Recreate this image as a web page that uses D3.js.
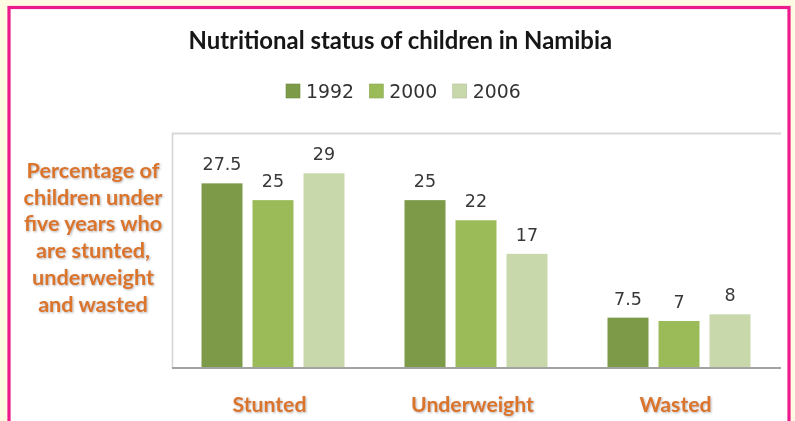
<!DOCTYPE html>
<html>
<head>
<meta charset="utf-8">
<script src="https://cdn.jsdelivr.net/npm/d3@7"></script>
<style>
  html, body { margin: 0; padding: 0; background: #fffbe3; }
  svg { display: block; }
</style>
</head>
<body>
<div id="chart"></div>
<script>
// ---- data ----
const title = "Nutritional status of children in Namibia";
const categories = ["Stunted", "Underweight", "Wasted"];
const years = ["1992", "2000", "2006"];
const values1992 = [27.5, 25, 7.5];
const values2000 = [25, 22, 7];
const values2006 = [29, 17, 8];
const yLabelLines = ["Percentage of", "children under", "five years who", "are stunted,", "underweight", "and wasted"];
const colors = ["#7d9a48", "#9bbb59", "#c8d8aa"];

const series = [values1992, values2000, values2006];

const W = 795, H = 421;
const plot = { left: 172, right: 781, top: 133, bottom: 368 };
const orange = "#db742c";

const svg = d3.select("#chart").append("svg").attr("width", W).attr("height", H);

const defs = svg.append("defs");
const f = defs.append("filter").attr("id", "shadow").attr("x", "-10%").attr("y", "-20%").attr("width", "130%").attr("height", "150%");
f.append("feDropShadow").attr("dx", 1).attr("dy", 1).attr("stdDeviation", 0.9)
  .attr("flood-color", "#7a7a7a").attr("flood-opacity", 0.55);
const soft = defs.append("filter").attr("id", "soft");
soft.append("feGaussianBlur").attr("stdDeviation", 0.35);

// background panel with pink border
svg.append("rect").attr("x", 0).attr("y", 0).attr("width", W).attr("height", H).attr("fill", "#fffbe3");
svg.append("rect").attr("x", 9).attr("y", 7.5).attr("width", 780).attr("height", 430)
  .attr("fill", "#ffffff").attr("stroke", "#ec1a8c").attr("stroke-width", 3.2);

// fit helper: scale font-size so text width matches target
function fitWidth(sel, target) {
  const node = sel.node();
  const fs = parseFloat(sel.attr("font-size"));
  const len = node.getComputedTextLength();
  if (len > 0) sel.attr("font-size", fs * target / len);
  return +sel.attr("font-size");
}

// title
const t = svg.append("text").attr("x", 400.3).attr("y", 48.7).attr("text-anchor", "middle")
  .attr("font-family", "Lato, 'Open Sans', sans-serif").attr("font-weight", "bold")
  .attr("font-size", 20).attr("fill", "#151515").attr("filter", "url(#soft)").text(title);
fitWidth(t, 424);

// scales
const x0 = d3.scaleBand().domain(categories).range([plot.left, plot.right]).padding(0);
const x1 = d3.scaleBand().domain(years).range([29.5, 172.5]).paddingInner(0.196).paddingOuter(0);
const y = d3.scaleLinear().domain([0, 35]).range([plot.bottom, plot.top]);

// plot border (top & left)
svg.append("line").attr("x1", plot.left).attr("x2", plot.right).attr("y1", plot.top + 0.5).attr("y2", plot.top + 0.5)
  .attr("stroke", "#d9d9d9").attr("stroke-width", 2);
svg.append("line").attr("x1", plot.left + 0.5).attr("x2", plot.left + 0.5).attr("y1", plot.top).attr("y2", plot.bottom)
  .attr("stroke", "#d3d3d3").attr("stroke-width", 1.5);

// legend
const legendX = [286, 369.3, 452.7];
const lg = svg.append("g");
let legendFs = null;
years.forEach((yr, i) => {
  lg.append("rect").attr("x", legendX[i]).attr("y", 84).attr("width", 14).attr("height", 14)
    .attr("fill", colors[i]).attr("stroke", d3.color(colors[i]).darker(0.3)).attr("stroke-width", 0.6);
  const tx = lg.append("text").attr("x", legendX[i] + 20).attr("y", 97.5)
    .attr("font-family", "'DejaVu Sans', sans-serif").attr("font-size", 18)
    .attr("fill", "#333333").attr("filter", "url(#soft)").text(yr);
  if (legendFs === null) legendFs = fitWidth(tx, 48); else tx.attr("font-size", legendFs);
});

// bars
const groups = svg.append("g").selectAll("g").data(categories).join("g")
  .attr("transform", d => `translate(${x0(d)},0)`);

years.forEach((yr, si) => {
  groups.append("rect")
    .attr("x", x1(yr)).attr("width", x1.bandwidth())
    .attr("y", (d, ci) => y(series[si][ci]))
    .attr("height", (d, ci) => y(0) - y(series[si][ci]))
    .attr("fill", colors[si]);
});
years.forEach((yr, si) => {
  groups.append("text")
    .attr("x", x1(yr) + x1.bandwidth() / 2)
    .attr("y", (d, ci) => y(series[si][ci]) - 13)
    .attr("text-anchor", "middle")
    .attr("font-family", "'DejaVu Sans', sans-serif").attr("font-size", 17.5)
    .attr("fill", "#383838").attr("filter", "url(#soft)")
    .text((d, ci) => series[si][ci]);
});

// x axis line
svg.append("line").attr("x1", plot.left).attr("x2", plot.right).attr("y1", plot.bottom).attr("y2", plot.bottom)
  .attr("stroke", "#a3a3a3").attr("stroke-width", 2);

// x category labels
const xl = svg.append("g").selectAll("text").data(categories).join("text")
  .attr("x", d => x0(d) + x0.bandwidth() / 2 - 4).attr("y", 411.7)
  .attr("text-anchor", "middle")
  .attr("font-family", "Lato, 'Open Sans', sans-serif").attr("font-weight", "bold").attr("font-size", 20)
  .attr("fill", orange).attr("filter", "url(#shadow)").text(d => d);
const uw = xl.filter(d => d === "Underweight");
const xfs = fitWidth(uw, 123);
xl.attr("font-size", xfs);

// y axis title (multi-line)
const yl = svg.append("text").attr("text-anchor", "middle")
  .attr("font-family", "Lato, 'Open Sans', sans-serif").attr("font-weight", "bold").attr("font-size", 20)
  .attr("fill", orange).attr("filter", "url(#shadow)");
const spans = yl.selectAll("tspan").data(yLabelLines).join("tspan")
  .attr("x", 93).attr("y", (d, i) => 178 + i * 26.7).text(d => d);
const firstLen = spans.nodes()[0].getComputedTextLength();
if (firstLen > 0) yl.attr("font-size", 20 * 133 / firstLen);
</script>
</body>
</html>
